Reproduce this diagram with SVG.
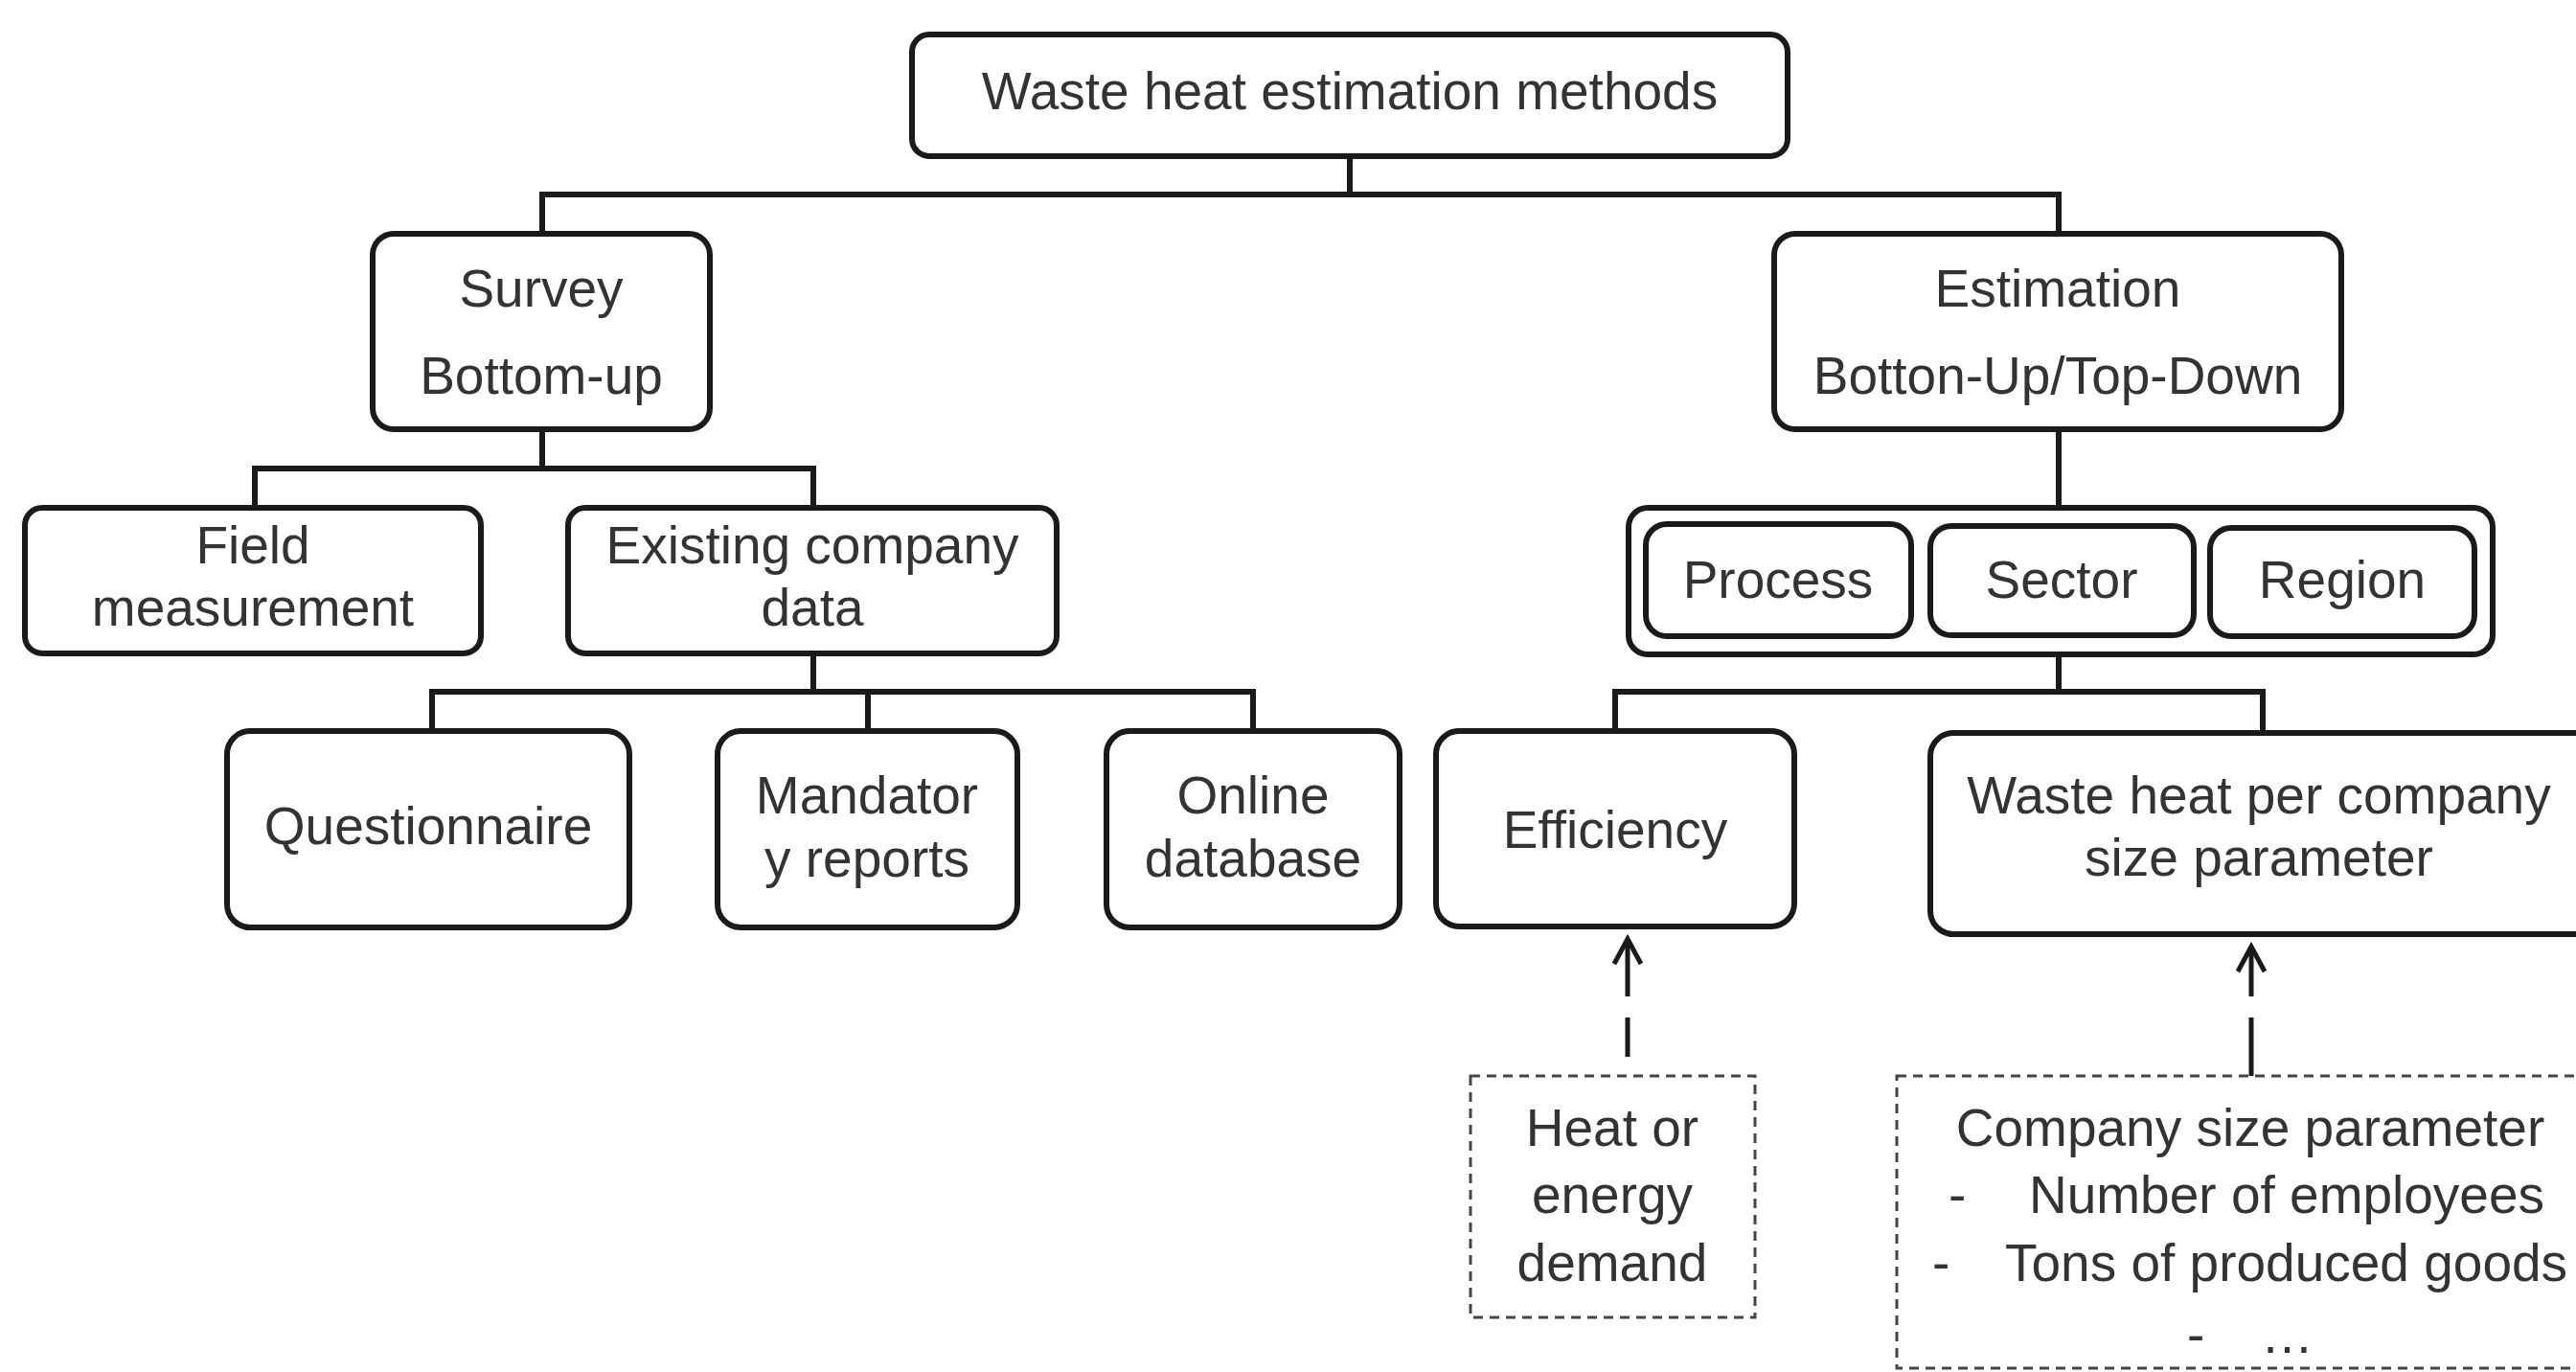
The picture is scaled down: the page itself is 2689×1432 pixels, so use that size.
<svg xmlns="http://www.w3.org/2000/svg" width="2689" height="1432" viewBox="0 0 2689 1432">
<style>
.box{fill:#fff;stroke:#1a1a1a;stroke-width:6}
.dbox{fill:#fff;stroke:#444;stroke-width:3;stroke-dasharray:10 7}
.con{fill:none;stroke:#1a1a1a;stroke-width:6}
.dash{fill:none;stroke:#1a1a1a;stroke-width:5}
.t{font-family:"Liberation Sans",Arial,sans-serif;font-size:55px;fill:#333;text-anchor:middle}
.ts{font-family:"Liberation Sans",Arial,sans-serif;font-size:55px;fill:#333;text-anchor:start}
</style>
<rect width="2689" height="1432" fill="#fff"/>
<g id="connectors">
<path class="con" d="M1409 163V203M566 244V203H2149V244"/>
<path class="con" d="M566 448V489M266 530V489H849V530"/>
<path class="con" d="M849 682V722M451 763V722H1308V763M906 722V763"/>
<path class="con" d="M2149 448V530"/>
<path class="con" d="M2149 683V722M1686 763V722H2362V763"/>
<g id="arrow-efficiency">
<path class="dash" d="M1699 1040V981M1699 1062V1103"/>
<path class="dash" d="M1685 1006L1699 980L1713 1006"/>
</g>
<g id="arrow-wasteheat">
<path class="dash" d="M2350 1040V989M2350 1062V1123"/>
<path class="dash" d="M2336 1014L2350 988L2364 1014"/>
</g>
</g>
<g id="n-root"><rect class="box" x="952" y="36" width="914" height="127" rx="18"/><text class="t" x="1409" y="114">Waste heat estimation methods</text></g>
<g id="n-survey"><rect class="box" x="389" y="244" width="352" height="204" rx="22"/><text class="t" x="565" y="320">Survey</text><text class="t" x="565" y="411">Bottom-up</text></g>
<g id="n-estimation"><rect class="box" x="1852" y="244" width="592" height="204" rx="22"/><text class="t" x="2148" y="320">Estimation</text><text class="t" x="2148" y="411">Botton-Up/Top-Down</text></g>
<g id="n-field"><rect class="box" x="26" y="530" width="476" height="152" rx="18"/><text class="t" x="264" y="588">Field</text><text class="t" x="264" y="653">measurement</text></g>
<g id="n-existing"><rect class="box" x="593" y="530" width="510" height="152" rx="18"/><text class="t" x="848" y="588">Existing company</text><text class="t" x="848" y="653">data</text></g>
<g id="n-questionnaire"><rect class="box" x="237" y="763" width="420" height="205" rx="24"/><text class="t" x="447" y="881">Questionnaire</text></g>
<g id="n-mandatory"><rect class="box" x="749" y="763" width="313" height="205" rx="24"/><text class="t" x="905" y="849">Mandator</text><text class="t" x="905" y="915">y reports</text></g>
<g id="n-online"><rect class="box" x="1155" y="763" width="306" height="205" rx="24"/><text class="t" x="1308" y="849">Online</text><text class="t" x="1308" y="915">database</text></g>
<g id="n-group"><rect class="box" x="1700" y="530" width="902" height="153" rx="20"/></g>
<g id="n-process"><rect class="box" x="1718" y="547" width="277" height="117" rx="22"/><text class="t" x="1856" y="624">Process</text></g>
<g id="n-sector"><rect class="box" x="2015" y="549" width="275" height="114" rx="22"/><text class="t" x="2152" y="624">Sector</text></g>
<g id="n-region"><rect class="box" x="2307" y="551" width="276" height="113" rx="22"/><text class="t" x="2445" y="624">Region</text></g>
<g id="n-efficiency"><rect class="box" x="1499" y="763" width="374" height="204" rx="24"/><text class="t" x="1686" y="885">Efficiency</text></g>
<g id="n-wasteheat"><rect class="box" x="2015" y="765" width="720" height="210" rx="24"/><text class="t" x="2358" y="849">Waste heat per company</text><text class="t" x="2358" y="914">size parameter</text></g>
<g id="n-heat"><rect class="dbox" x="1535" y="1123" width="297" height="252"/><text class="t" x="1683" y="1196">Heat or</text><text class="t" x="1683" y="1266">energy</text><text class="t" x="1683" y="1337">demand</text></g>
<g id="n-company"><rect class="dbox" x="1980" y="1123" width="760" height="305"/><text class="t" x="2349" y="1196">Company size parameter</text><text class="ts" y="1266"><tspan x="2034">-</tspan><tspan x="2118">Number of employees</tspan></text><text class="ts" y="1337"><tspan x="2017">-</tspan><tspan x="2093">Tons of produced goods</tspan></text><text class="ts" y="1412"><tspan x="2283">-</tspan><tspan x="2360">…</tspan></text></g>
</svg>
